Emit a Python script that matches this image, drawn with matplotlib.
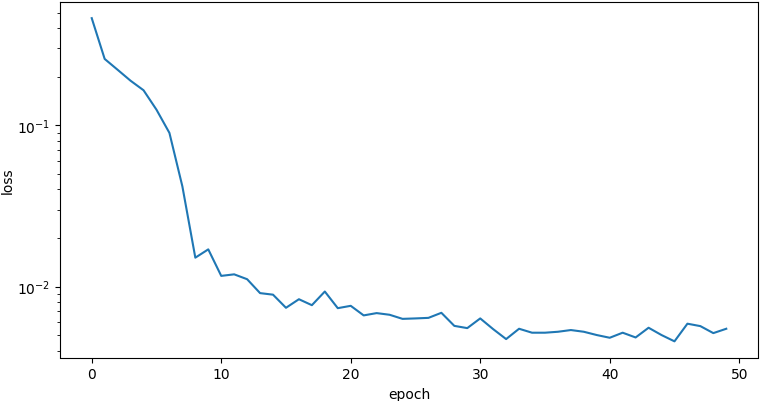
import matplotlib
matplotlib.use("Agg")
import matplotlib.pyplot as plt

epochs = list(range(50))
loss = [0.462, 0.258, 0.221, 0.189, 0.165, 0.125, 0.0897, 0.0418, 0.0151, 0.0170,
        0.01164, 0.0119, 0.0111, 0.0091, 0.0089, 0.00738, 0.00834, 0.00766, 0.00931, 0.00734,
        0.00759, 0.00662, 0.00684, 0.00668, 0.00630, 0.00634, 0.00639, 0.00687, 0.00570, 0.00552,
        0.00634, 0.00544, 0.00472, 0.00547, 0.00517, 0.00517, 0.00524, 0.00537, 0.00524, 0.00500,
        0.00481, 0.00517, 0.00483, 0.00555, 0.00500, 0.00457, 0.00588, 0.00568, 0.00514, 0.00547]

fig = plt.figure(figsize=(7.62, 4.02), dpi=100)
ax = fig.add_axes([60/762, 1-358.5/402, 698/762, 355.5/402])
ax.plot(epochs, loss, color="#1f77b4", linewidth=1.5)
ax.set_yscale("log")
ax.set_xlabel("epoch")
ax.set_ylabel("loss", labelpad=2)
fig.savefig("out.png", dpi=100)
